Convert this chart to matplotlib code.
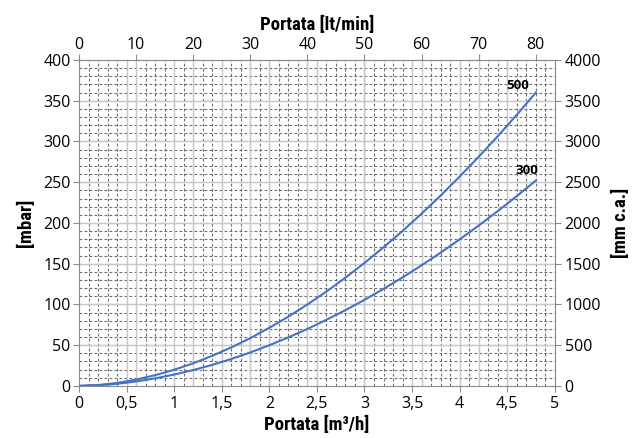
import matplotlib.pyplot as plt
import numpy as np

# portata [m3/h]
portata = [0, 0.2, 0.4, 0.6, 0.8, 1.0, 1.2, 1.4, 1.6, 1.8, 2.0, 2.2, 2.4,
           2.6, 2.8, 3.0, 3.2, 3.4, 3.6, 3.8, 4.0, 4.2, 4.4, 4.6, 4.8]
# perdita di carico [mbar]
dp_500 = [0, 1.0, 3.6, 7.7, 13.1, 19.8, 27.7, 36.9, 47.2, 58.6, 71.3, 85.0, 99.9,
          115.8, 132.8, 150.9, 170.1, 190.2, 211.4, 233.6, 256.9, 281.2, 306.4, 332.7, 360]
dp_300 = [0, 0.7, 2.5, 5.4, 9.2, 13.9, 19.4, 25.8, 33.0, 41.0, 49.9, 59.5, 69.9,
          81.1, 93.0, 105.6, 119.1, 133.1, 148.0, 163.5, 179.8, 196.8, 214.5, 232.9, 252]
curve_labels = ["500", "300"]

TICK_FONT = ['Open Sans', 'DejaVu Sans']
TITLE_FONT = ['Roboto Condensed', 'Liberation Sans Narrow', 'DejaVu Sans']
LINE_COLOR = "#4472C4"
TICK_SIZE = 11.5

fig = plt.figure(figsize=(6.37, 4.38), dpi=100)
ax = fig.add_axes([0.124, 0.119, 0.747, 0.744])

ax.set_xlim(0, 5)
ax.set_ylim(0, 400)

# griglia secondaria tratteggiata
for xv in np.arange(0.1, 5.0, 0.1):
    ax.axvline(xv, color="#6e6e6e", linewidth=0.8, linestyle=(0, (2.5, 2)), zorder=1)
for yv in np.arange(10, 400, 10):
    ax.axhline(yv, color="#6e6e6e", linewidth=0.8, linestyle=(0, (2.5, 2)), zorder=1)
# griglia principale
for xv in np.arange(0.5, 5.0, 0.5):
    ax.axvline(xv, color="#c8c8c8", linewidth=1.0, zorder=1.5)
for xv in np.arange(10, 80, 10) * 0.06:
    ax.axvline(xv, color="#c8c8c8", linewidth=1.0, zorder=1.5)
for yv in np.arange(50, 400, 50):
    ax.axhline(yv, color="#c8c8c8", linewidth=1.0, zorder=1.5)

ax.plot(portata, dp_500, color=LINE_COLOR, linewidth=1.5, zorder=3)
ax.plot(portata, dp_300, color=LINE_COLOR, linewidth=1.5, zorder=3)

ax.text(portata[-1] - 0.07, dp_500[-1] + 1, curve_labels[0], ha="right", va="bottom",
        fontsize=9.5, fontweight="bold", family=TICK_FONT, zorder=4)
ax.text(portata[-1] + 0.03, dp_300[-1] + 4, curve_labels[1], ha="right", va="bottom",
        fontsize=9.5, fontweight="bold", family=TICK_FONT, zorder=4)

ax.set_xticks(np.arange(0, 5.01, 0.5))
ax.set_xticklabels(["0", "0,5", "1", "1,5", "2", "2,5", "3", "3,5", "4", "4,5", "5"])
ax.set_yticks(np.arange(0, 401, 50))

for sp in ax.spines.values():
    sp.set_color("#8c8c8c")
ax.tick_params(axis="x", length=4, color="#8c8c8c", labelsize=TICK_SIZE, pad=3)
ax.tick_params(axis="y", length=4, color="#8c8c8c", labelsize=TICK_SIZE, pad=2)
for lab in ax.get_xticklabels() + ax.get_yticklabels():
    lab.set_family(TICK_FONT)

ax.set_xlabel("Portata [m³/h]", fontsize=13.5, fontweight="bold", family=TITLE_FONT, labelpad=3)
ax.set_ylabel("[mbar]", fontsize=13.5, fontweight="bold", family=TITLE_FONT, labelpad=6)

# asse superiore lt/min
top = ax.secondary_xaxis("top", functions=(lambda x: x / 0.06, lambda x: x * 0.06))
top.set_xticks(np.arange(0, 81, 10))
top.tick_params(length=4, color="#8c8c8c", labelsize=TICK_SIZE, pad=1)
top.spines["top"].set_color("#8c8c8c")
for lab in top.get_xticklabels():
    lab.set_family(TICK_FONT)
top.set_xlabel("Portata [lt/min]", fontsize=13.5, fontweight="bold", family=TITLE_FONT, labelpad=5)

# asse destro mm c.a.
right = ax.secondary_yaxis("right", functions=(lambda y: y * 10, lambda y: y / 10))
right.set_yticks(np.arange(0, 4001, 500))
right.tick_params(length=4, color="#8c8c8c", labelsize=TICK_SIZE, pad=3)
right.spines["right"].set_color("#8c8c8c")
for lab in right.get_yticklabels():
    lab.set_family(TICK_FONT)
right.set_ylabel("[mm c.a.]", fontsize=13.5, fontweight="bold", family=TITLE_FONT,
                 rotation=90, labelpad=8)

fig.savefig("out.png", dpi=100)
